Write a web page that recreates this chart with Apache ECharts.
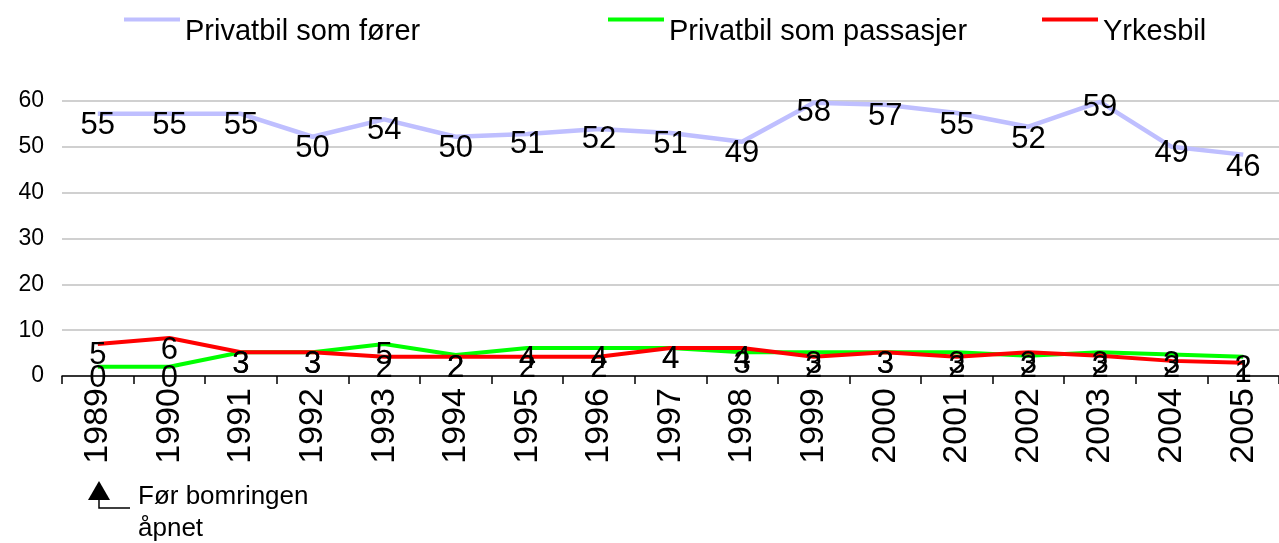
<!DOCTYPE html>
<html>
<head>
<meta charset="utf-8">
<script src="https://cdn.jsdelivr.net/npm/echarts@6/dist/echarts.min.js"></script>
<style>html,body{margin:0;padding:0;background:#fff;}#c{width:1279px;height:543px;}</style>
</head>
<body>
<div id="c"></div>
<script>
var years = ['1989','1990','1991','1992','1993','1994','1995','1996','1997','1998','1999','2000','2001','2002','2003','2004','2005'];
var seriesNames = ['Privatbil som fører','Privatbil som passasjer','Yrkesbil'];
// line values as drawn
var forerLine = [57.2,57.2,57.2,52.2,56,52.2,52.8,53.9,53,51.1,59.6,59.2,57.4,54.4,59.8,50,48.3];
var passasjerLine = [2,2,5.2,5.2,7,4.6,6.1,6.1,6.1,5.2,5.2,5.2,5.2,4.4,5.2,4.7,4.2];
var yrkesLine = [7,8.3,5.2,5.2,4.2,4.2,4.2,4.2,6.1,6.1,4.2,5.2,4.2,5.2,4.4,3.3,2.9];
// data labels as printed
var forerLabels = [55,55,55,50,54,50,51,52,51,49,58,57,55,52,59,49,46];
var passasjerLabels = [0,0,3,3,5,2,4,4,4,3,3,3,3,2,3,3,2];
var yrkesLabels = [5,6,3,3,2,2,2,2,4,4,2,3,2,3,2,2,1];
var yTicks = [0,10,20,30,40,50,60];

var colors = ['#bfbfff','#00ff00','#ff0000'];
var FONT = 'Liberation Sans, Arial, sans-serif';

function lineSeries(name, data, color, w) {
  return {
    name: name, type: 'line', data: data, symbol: 'none', silent: true,
    lineStyle: {color: color, width: w}, itemStyle: {color: color}, z: 2
  };
}
function labelSeries(labels) {
  return {
    type: 'scatter', data: labels, symbolSize: 0, silent: true, z: 5,
    itemStyle: {opacity: 1, color: '#000'},
    label: {show: true, position: 'inside', offset: [0, 2], color: '#000', opacity: 1,
      textBorderWidth: 0, fontFamily: FONT, fontSize: 31,
      formatter: function (p) { return String(p.value); }}
  };
}
function legendAt(left, name) {
  return {
    left: left, top: 12, data: [{name: name, icon: 'path://M0,0h56v4h-56z M0,27.9h0.01v0.1h-0.01z'}],
    itemWidth: 56, itemHeight: 28, itemGap: 5,
    textStyle: {fontFamily: FONT, fontSize: 29, color: '#000'}
  };
}

var chart = echarts.init(document.getElementById('c'));
chart.setOption({
  animation: false,
  backgroundColor: '#fff',
  legend: [legendAt(119, seriesNames[0]), legendAt(603, seriesNames[1]), legendAt(1037, seriesNames[2])],
  grid: {left: 62, right: 0, top: 101, bottom: 167, containLabel: false},
  xAxis: {
    type: 'category', data: years, boundaryGap: true,
    axisLine: {show: true, lineStyle: {color: '#000', width: 1.5}},
    axisTick: {show: true, length: 8, lineStyle: {color: '#000', width: 1.5}},
    axisLabel: {rotate: 90, margin: 12, color: '#000', fontFamily: FONT, fontSize: 34}
  },
  yAxis: {
    type: 'value', min: yTicks[0], max: yTicks[yTicks.length - 1], interval: 10,
    axisLine: {show: false}, axisTick: {show: false},
    splitLine: {lineStyle: {color: '#c0c0c0', width: 1.5}},
    axisLabel: {margin: 18, color: '#000', fontFamily: FONT, fontSize: 23}
  },
  series: [
    lineSeries(seriesNames[0], forerLine, colors[0], 4.5),
    lineSeries(seriesNames[1], passasjerLine, colors[1], 4),
    lineSeries(seriesNames[2], yrkesLine, colors[2], 4),
    labelSeries(forerLabels),
    labelSeries(passasjerLabels),
    labelSeries(yrkesLabels)
  ],
  graphic: [
    {type: 'polygon', shape: {points: [[99, 481], [88, 500], [110, 500]]}, style: {fill: '#000'}},
    {type: 'polyline', shape: {points: [[99, 500], [99, 508], [130, 508]]}, style: {stroke: '#000', lineWidth: 1.5, fill: null}},
    {type: 'text', left: 138, top: 484, style: {text: 'Før bomringen', font: '26px ' + FONT, fill: '#000'}},
    {type: 'text', left: 138, top: 516, style: {text: 'åpnet', font: '26px ' + FONT, fill: '#000'}}
  ]
});
</script>
</body>
</html>
